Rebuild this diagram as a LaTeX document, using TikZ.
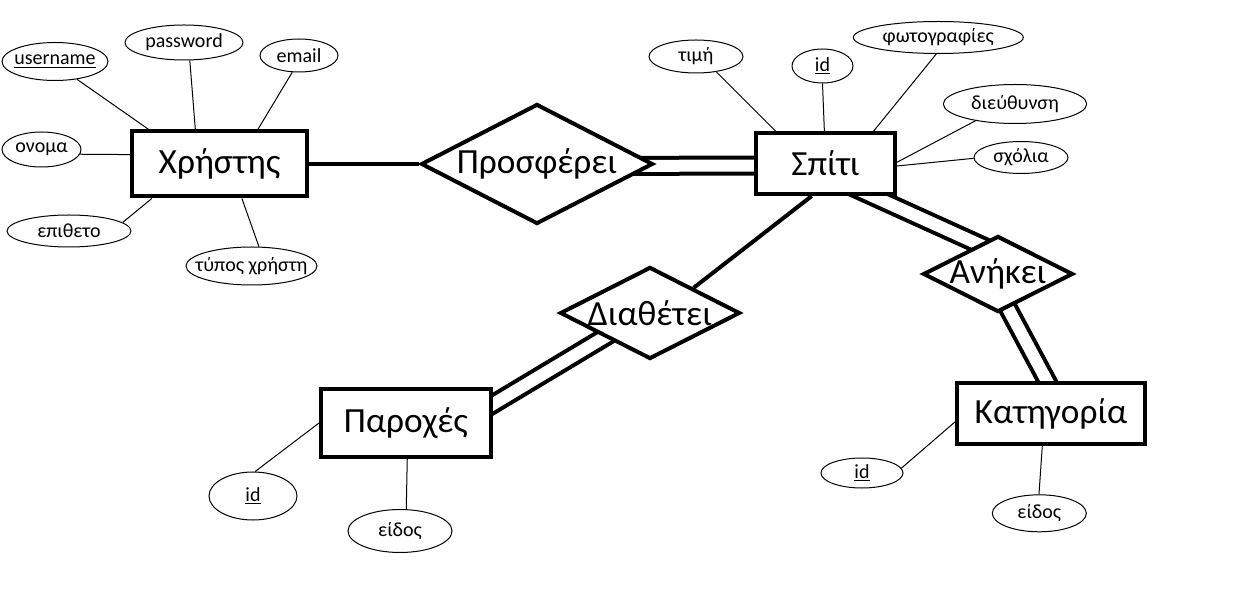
\documentclass[tikz,border=0pt]{standalone}
\usepackage{fontspec}
\setmainfont{Carlito}
\usetikzlibrary{shapes.geometric}
\pgfdeclarelayer{bg}
\pgfsetlayers{bg,main}
\begin{document}
\begin{tikzpicture}[x=0.75pt,y=-0.75pt,
  ent/.style 2 args={draw, rectangle, line width=3pt, fill=white, inner sep=0pt,
    minimum width=0.75pt*#1, minimum height=0.75pt*#2,
    font=\fontsize{26.5}{31}\selectfont},
  rel/.style 2 args={draw, diamond, line width=3pt, fill=white, inner sep=0pt,
    minimum width=1.5pt*#1, minimum height=1.5pt*#2,
    font=\fontsize{26.5}{31}\selectfont},
  att/.style 2 args={draw, ellipse, line width=0.75pt, fill=white, inner sep=0pt,
    minimum width=1.5pt*#1, minimum height=1.5pt*#2,
    font=\fontsize{15}{18}\selectfont},
  thinline/.style={line width=0.75pt},
  thickline/.style={line width=3pt},
  dbl/.style={line width=3pt, double=white, double distance=9pt}
]
\useasboundingbox (0,0) rectangle (1246,598);
% entities
\node[ent={175}{65}] (x) at (219.5,164) {Χρήστης};
\node[ent={139}{61}] (s) at (825.5,163.5) {Σπίτι};
\node[ent={170}{68}] (p) at (406,423) {Παροχές};
\node[ent={188}{61}] (k) at (1051,413.5) {Κατηγορία};
% relationships
\node[rel={116}{60}] (pr) at (537,164) {\makebox[0pt]{Προσφέρει}};
\node[rel={90}{46}] (d) at (650,313) {\makebox[0pt]{Διαθέτει}};
\node[rel={75}{38}] (a) at (998,274) {\makebox[0pt]{Ανήκει}};
% attributes of Χρήστης
\node[att={53}{19}] (un) at (55,61.5) {\makebox[0pt]{\underline{username}}};
\node[att={59}{17.5}] (pw) at (184,42.5) {\makebox[0pt]{password}};
\node[att={39}{16.5}] (em) at (299,55.5) {\makebox[0pt]{email}};
\node[att={39.5}{17.5}] (on) at (41.5,149.5) {\makebox[0pt]{ονομα}};
\node[att={62}{16}] (ep) at (69,231) {\makebox[0pt]{επιθετο}};
\node[att={65.5}{19}] (ty) at (251.5,266) {\makebox[0pt]{τύπος χρήστη}};
% attributes of Σπίτι
\node[att={47}{16.5}] (ti) at (696,56.5) {\makebox[0pt]{τιμή}};
\node[att={30.5}{17}] (sid) at (822.5,66) {\makebox[0pt]{\underline{id}}};
\node[att={85}{16}] (ph) at (938.3,37.5) {\makebox[0pt]{φωτογραφίες}};
\node[att={71.7}{19.5}] (di) at (1015,104) {\makebox[0pt]{διεύθυνση}};
\node[att={47}{16}] (sx) at (1021,157.5) {\makebox[0pt]{σχόλια}};
% attributes of Παροχές
\node[att={44}{24}] (pid) at (253,496) {\makebox[0pt]{\underline{id}}};
\node[att={52}{21.5}] (pe) at (400,531) {\makebox[0pt]{είδος}};
% attributes of Κατηγορία
\node[att={41}{15}] (kid) at (862,473) {\makebox[0pt]{\underline{id}}};
\node[att={47}{18.5}] (ke) at (1039.3,513.3) {\makebox[0pt]{είδος}};
% attribute connectors
\draw[thinline] (un.-39.8) -- (x.154.8);
\draw[thinline] (pw.-72) -- (x.125.7);
\draw[thinline] (em.248.2) -- (x.42.7);
\draw[thinline] (on.-7.9) -- (x.174.6);
\draw[thinline] (ep.9.3) -- (x.207.4);
\draw[thinline] (ty.69.4) -- (x.-57.2);
\draw[thinline] (ti.-37.8) -- (s.147.5);
\draw[thinline] (sid.-90) -- (s.92.6);
\draw[thinline] (ph.263.3) -- (s.34.6);
\draw[thinline] (di.203) -- (s.1.4);
\draw[thinline] (sx.181) -- (s.-2.9);
\draw[thinline] (pid.85.4) -- (p.180.7);
\draw[thinline] (pe.74.9) -- (p.-88);
\draw[thinline] (kid.7) -- (k.185.7);
\draw[thinline] (ke.91) -- (k.-105);
% relationship connectors
\draw[thickline] (x) -- (pr);
\draw[thickline] (s.247.4) -- (d.30.8);
\begin{pgfonlayer}{bg}
\fill[white] (0,0) rectangle (1246,598);
\draw[dbl] ([yshift=-1.5pt]pr.center) -- ([yshift=-1.5pt]s.center);
\draw[dbl] ([shift={(0.5,11.5)}]s.center) -- ([shift={(0,-21)}]a.center);
\draw[dbl] ([shift={(5.5,26)}]a.center) -- ([shift={(4,-17.5)}]k.center);
\draw[dbl] ([shift={(64,-5)}]p.center) -- ([shift={(-30,15)}]d.center);
\end{pgfonlayer}
\end{tikzpicture}
\end{document}
